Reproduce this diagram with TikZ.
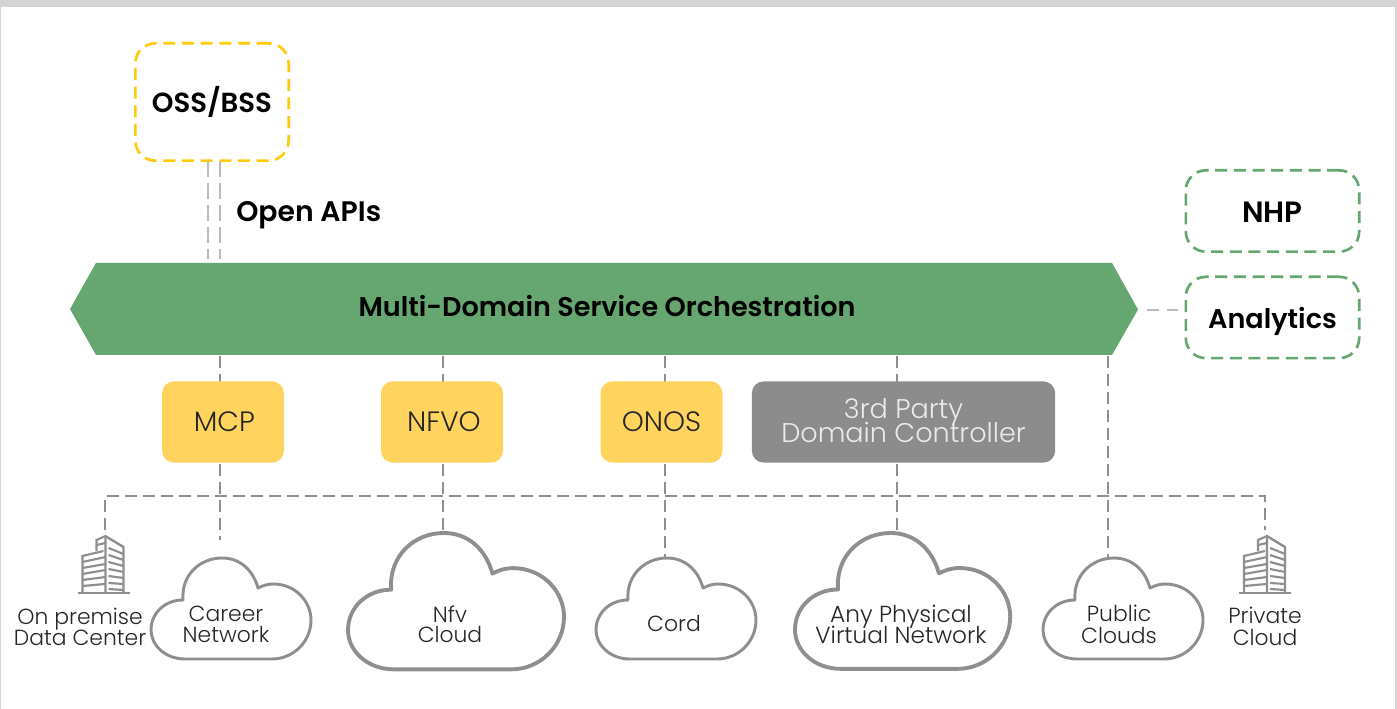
\documentclass[tikz,border=0pt]{standalone}
\usepackage{fontspec}
\setmainfont{Poppins}
\newfontfamily\lightf{Poppins Light}
\newfontfamily\boldf{Poppins SemiBold}
\definecolor{dgreen}{HTML}{66A771}
\definecolor{dyellow}{HTML}{FFD45E}
\definecolor{dline}{HTML}{8F8F8F}
\definecolor{lline}{HTML}{BBBBBB}
\definecolor{dgrey}{HTML}{8C8C8C}
\definecolor{oyellow}{HTML}{FFCB0B}
\tikzset{
  conn/.style={draw=dline,line width=1.5pt,dash pattern=on 9pt off 4.5pt},
  apilink/.style={draw=lline,line width=1.5pt,dash pattern=on 12pt off 4.5pt},
  ctrl/.style={fill=dyellow,rounded corners=9pt,minimum width=91.5pt,minimum height=61pt,inner sep=0pt,font=\lightf\fontsize{21}{21}\selectfont,text=black!85},
  grn/.style={draw=dgreen,line width=2pt,dash pattern=on 9pt off 5pt,rounded corners=15pt,minimum width=130pt,inner sep=0pt,font=\boldf\fontsize{20.3}{20.3}\selectfont,fill=white},
  lbl/.style={font=\lightf\fontsize{16.4}{16}\selectfont,align=center,text=black!85,inner sep=0pt},
  cloudline/.style={draw=dline,fill=white,line join=round}
}
\newcommand{\mycloud}[4]{% x y scale linewidth
  \begin{scope}[shift={(#1,#2)},scale=#3]
  \path[cloudline,line width=#4]
    (32,42) .. controls (30,17) and (49,0) .. (71,0)
    .. controls (89,0) and (102,12) .. (107,30)
    .. controls (113,27) and (118,26) .. (122,26)
    .. controls (145,26) and (160,44) .. (160,62)
    .. controls (160,84) and (142,101) .. (121,101)
    -- (34,101)
    .. controls (14,101) and (0,87) .. (0,72)
    .. controls (0,55) and (14,42) .. (32,42) -- cycle;
  \end{scope}}
\newcommand{\mybldg}[2]{% x of base centre, y of base
  \begin{scope}[shift={(#1,#2)},draw=dline,line width=1.6pt]
  \draw[line width=2.2pt] (-26,0) -- (26,0);
  \draw (-21,0) -- (-21,-37) -- (0,-42) (-21,-31) -- (2,-36) (-21,-25) -- (2,-29) (-21,-19) -- (2,-23) (-21,-13) -- (2,-16) (-21,-7) -- (2,-9);
  \draw (-7,-42) -- (-7,-53) -- (2,-57) -- (20,-46) -- (20,0);
  \draw (2,-57) -- (2,0) (5,-55) -- (20,-46);
  \draw (-7,-48) -- (2,-50);
  \draw (5,-45) -- (20,-39) (5,-38) -- (20,-33) (5,-31) -- (20,-27) (5,-24) -- (20,-21) (5,-17) -- (20,-15) (5,-10) -- (20,-9) (5,-4) -- (20,-3);
  \end{scope}}
\begin{document}
\begin{tikzpicture}[x=0.75pt,y=-0.75pt]
\useasboundingbox (0,0) rectangle (1397,709);
\fill[white] (0,0) rectangle (1397,709);
\fill[black!17] (0,0) rectangle (1397,7);
\fill[black!17] (0,0) rectangle (1,709);
\fill[black!17] (1395,0) rectangle (1397,709);

% named anchors
\node[grn,draw=oyellow,minimum width=115pt,minimum height=88pt,anchor=center,font=\boldf\fontsize{20.7}{20.7}\selectfont] (oss) at (212,102) {\raisebox{-8.25pt}[0pt][0pt]{OSS/BSS}};
\node[grn,minimum height=61pt,font=\boldf\fontsize{22}{22}\selectfont] (nhp) at (1272.5,211) {\raisebox{-9pt}[0pt][0pt]{NHP}};
\node[grn,minimum height=61pt] (ana) at (1272.5,317.5) {\raisebox{-8pt}[0pt][0pt]{Analytics}};
\node[inner sep=0pt,font=\boldf\fontsize{21.2}{21.2}\selectfont,anchor=west] (api) at (236,215) {Open APIs};

\coordinate (a1) at (208,161); \coordinate (a2) at (208,259);
\coordinate (b1) at (219.5,161); \coordinate (b2) at (219.5,259);
\draw[apilink] (a1) -- (a2);
\draw[apilink] (b1) -- (b2);

\fill[dgreen] (70,309) -- (96,263) -- (1112,263) -- (1138,309.5) -- (1112,355) -- (96,355) -- cycle;
\node[inner sep=0pt,font=\boldf\fontsize{20.3}{20.3}\selectfont] (mdso) at (607,306.5) {Multi-Domain Service Orchestration};
\coordinate (mdsoR) at (1147,310);
\coordinate (anaL) at (1178,310);
\draw[draw=lline,line width=1.5pt,dash pattern=on 9pt off 6pt] (mdsoR) -- (anaL);

\coordinate (t1) at (220,356); \coordinate (e1) at (220,540);
\coordinate (t2) at (443,356); \coordinate (e2) at (443,532);
\coordinate (t3) at (665,356); \coordinate (e3) at (665,558);
\coordinate (t4) at (897,356); \coordinate (e4) at (897,533);
\coordinate (t5) at (1108,356); \coordinate (e5) at (1108,558);
\coordinate (hl) at (105,496); \coordinate (hr) at (1265,496);
\coordinate (dl) at (105,530); \coordinate (dr) at (1265,530);
\foreach \i in {1,...,5} {\draw[conn] (t\i) -- (e\i);}
\draw[conn] (dl) -- (hl) -- (hr) -- (dr);

\node[ctrl] (mcp) at (223,422) {\hspace{2pt}MCP};
\node[ctrl] (nfvo) at (442,422) {\hspace{3pt}NFVO};
\node[ctrl] (onos) at (661.5,422) {ONOS};
\node[ctrl,fill=dgrey,minimum width=227.5pt] (tpd) at (903.5,422) {};
\node[inner sep=0pt,text=white!92!black,align=center,font=\lightf\fontsize{20.3}{19}\selectfont] (tpdt) at (903.5,421) {3rd Party\\[-3.6pt]Domain Controller};

\mycloud{151}{558}{1}{2.2pt}
\mycloud{348}{533}{1.35}{2.9pt}
\mycloud{596}{558}{1}{2.2pt}
\mycloud{795}{533}{1.345}{2.9pt}
\mycloud{1043}{558}{1}{2.2pt}
\mybldg{103.5}{593}
\mybldg{1265}{593}

\node[lbl] (l1) at (80,627) {On premise\\Data Center};
\node[lbl] (l2) at (226,624.5) {Career\\Network};
\node[lbl] (l3) at (450,624.5) {Nfv\\[-0.7pt]Cloud};
\node[lbl] (l4) at (674,623.5) {Cord};
\node[lbl,font=\lightf\fontsize{17.4}{16}\selectfont] (l5) at (901,624.5) {Any Physical\\[-3pt]Virtual Network};
\node[lbl] (l6) at (1119,624.5) {Public\\Clouds};
\node[lbl] (l7) at (1265,626.5) {Private\\Cloud};
\end{tikzpicture}
\end{document}
